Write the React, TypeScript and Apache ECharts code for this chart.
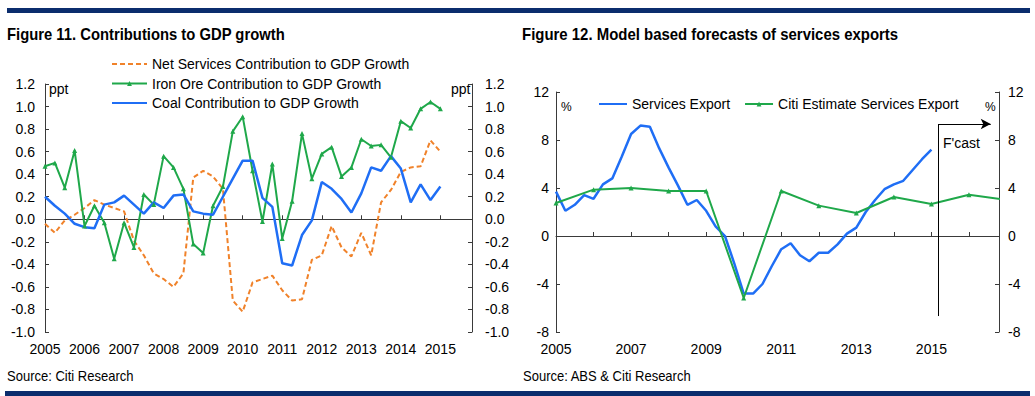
import React, { useEffect, useRef } from "react";
import * as echarts from "echarts";

// ---------- Data ----------
const fig11Title = "Figure 11. Contributions to GDP growth";
const fig12Title = "Figure 12. Model based forecasts of services exports";
const source11 = "Source: Citi Research";
const source12 = "Source: ABS & Citi Research";

const startYear = 2005; // quarterly series start at 2005 Q1

const netServicesName = "Net Services Contribution to GDP Growth";
const ironOreName = "Iron Ore Contribution to GDP Growth";
const coalName = "Coal Contribution to GDP Growth";

const netServices = [
  -0.04, -0.12, -0.01, 0.04, 0.1, 0.17, 0.13, 0.1, 0.07, -0.19, -0.32, -0.48,
  -0.53, -0.6, -0.48, 0.37, 0.43, 0.38, 0.27, -0.72, -0.82, -0.56, -0.53, -0.5,
  -0.63, -0.72, -0.71, -0.36, -0.32, -0.06, -0.25, -0.33, -0.12, -0.32, 0.15,
  0.26, 0.42, 0.46, 0.47, 0.7, 0.6,
];
const ironOre = [
  0.47, 0.5, 0.28, 0.61, -0.06, 0.12, -0.03, -0.35, -0.03, -0.25, 0.22, 0.13,
  0.56, 0.46, 0.27, -0.22, -0.3, 0.12, 0.29, 0.78, 0.91, 0.43, -0.02, 0.49,
  -0.17, 0.16, 0.76, 0.36, 0.58, 0.64, 0.38, 0.46, 0.71, 0.65, 0.66, 0.55, 0.87,
  0.81, 0.98, 1.04, 0.98,
];
const coal = [
  0.2, 0.12, 0.05, -0.04, -0.07, -0.08, 0.13, 0.15, 0.21, 0.13, 0.05, 0.15, 0.1,
  0.21, 0.22, 0.07, 0.05, 0.04, 0.2, 0.36, 0.52, 0.52, 0.19, 0.11, -0.39, -0.41,
  -0.14, -0.01, 0.33, 0.27, 0.18, 0.06, 0.23, 0.46, 0.43, 0.56, 0.45, 0.15, 0.31,
  0.17, 0.29,
];

const servicesExportName = "Services Export";
const citiEstimateName = "Citi Estimate Services Export";
const servicesExport = [
  3.7, 2.1, 2.6, 3.4, 3.1, 4.3, 4.8, 6.6, 8.5, 9.2, 9.1, 7.3, 5.7, 4.2, 2.6, 3.0,
  2.1, 0.8, 0.0, -2.3, -4.8, -4.8, -4.0, -2.5, -1.1, -0.6, -1.6, -2.1, -1.4,
  -1.4, -0.7, 0.2, 0.7, 2.0, 3.0, 3.9, 4.3, 4.6, 5.5, 6.4, 7.2,
];
const citiYears = [2005, 2006, 2007, 2008, 2009, 2010, 2011, 2012, 2013, 2014, 2015, 2016, 2017];
const citiEstimate = [2.75, 3.86, 4.0, 3.75, 3.75, -5.17, 3.75, 2.53, 1.92, 3.25, 2.67, 3.44, 3.0];

const forecastStart = 2015.18;
const forecastArrowEnd = 2016.58;
const forecastTop = 9.33;
const forecastBottom = -6.67;

// ---------- Styles ----------
const FONT = "'Liberation Sans', Arial, Helvetica, sans-serif";
const NAVY = "#0b2d6d";
const AXIS = "#3a3a3a";
const BLUE = "#1f6ef5";
const GREEN = "#1fa84a";
const ORANGE = "#f0822a";

const quarterly = (values: number[]) => values.map((v, i) => [startYear + i / 4, v]);

function buildOption(): any {
  const axisLineStyle = { color: AXIS, width: 1 };
  const labelStyle = { fontSize: 14, color: "#000", fontFamily: FONT };

  const yearLabelAxis = (gridIndex: number, max: number, onlyOdd: boolean) => ({
    type: "value",
    gridIndex,
    min: 2005,
    max,
    interval: 1,
    position: "bottom",
    axisLine: { show: false, onZero: false },
    axisTick: { show: false },
    splitLine: { show: false },
    axisLabel: {
      ...labelStyle,
      margin: 10,
      showMaxLabel: false,
      formatter: (v: number) => {
        if (!Number.isInteger(v)) return "";
        if (onlyOdd && v % 2 === 0) return "";
        return String(v);
      },
    },
  });
  const zeroLineAxis = (gridIndex: number, max: number) => ({
    type: "value",
    gridIndex,
    min: 2005,
    max,
    interval: 1,
    position: "bottom",
    axisLine: { show: true, onZero: true, lineStyle: axisLineStyle },
    axisTick: { show: true, inside: true, length: 4, lineStyle: axisLineStyle },
    axisLabel: { show: false },
    splitLine: { show: false },
  });
  const valueAxis = (
    gridIndex: number,
    position: string,
    min: number,
    max: number,
    interval: number,
    margin: number,
    fmt: (v: number) => string
  ) => ({
    type: "value",
    gridIndex,
    position,
    min,
    max,
    interval,
    axisLine: { show: true, onZero: false, lineStyle: axisLineStyle },
    axisTick: { show: true, inside: true, length: 4, lineStyle: axisLineStyle },
    splitLine: { show: false },
    axisLabel: { ...labelStyle, margin, formatter: fmt },
  });

  const f1 = (v: number) => v.toFixed(1);
  const f0 = (v: number) => String(Math.round(v));
  const lineOnly = (name: string) => ({ name, itemStyle: { opacity: 0 } });

  const titleText = (text: string, x: number, sx: number) => ({
    type: "text",
    x,
    y: 34,
    scaleX: sx,
    style: {
      text,
      fontSize: 16,
      fontWeight: "bold",
      fill: "#000",
      fontFamily: FONT,
      verticalAlign: "middle",
    },
  });
  const sourceText = (text: string, x: number) => ({
    type: "text",
    x,
    y: 376,
    scaleX: 0.93,
    style: { text, fontSize: 14, fill: "#000", fontFamily: FONT, verticalAlign: "middle" },
  });

  return {
    animation: false,
    backgroundColor: "#fff",
    textStyle: { fontFamily: FONT },
    legend: [
      {
        data: [lineOnly(netServicesName), ironOreName, lineOnly(coalName)],
        orient: "vertical",
        left: 111,
        top: 57,
        padding: 0,
        itemGap: 5.5,
        itemWidth: 35,
        itemHeight: 6,
        textStyle: { ...labelStyle },
      },
      {
        data: [lineOnly(servicesExportName), citiEstimateName],
        orient: "horizontal",
        left: 598,
        top: 97,
        padding: 0,
        itemGap: 14,
        itemWidth: 28,
        itemHeight: 6,
        textStyle: { ...labelStyle },
      },
    ],
    grid: [
      { left: 45, top: 84, width: 427, height: 248 },
      { left: 556, top: 92, width: 443, height: 240 },
    ],
    xAxis: [
      yearLabelAxis(0, 2015.8, false),
      zeroLineAxis(0, 2015.8),
      yearLabelAxis(1, 2016.8, true),
      zeroLineAxis(1, 2016.8),
    ],
    yAxis: [
      valueAxis(0, "left", -1.0, 1.2, 0.2, 10, f1),
      valueAxis(0, "right", -1.0, 1.2, 0.2, 13, f1),
      valueAxis(1, "left", -8, 12, 4, 7, f0),
      valueAxis(1, "right", -8, 12, 4, 9, f0),
    ],
    series: [
      {
        name: netServicesName,
        type: "line",
        xAxisIndex: 0,
        yAxisIndex: 0,
        data: quarterly(netServices),
        symbol: "none",
        lineStyle: { color: ORANGE, width: 2, type: [5, 3] },
        itemStyle: { color: ORANGE },
      },
      {
        name: ironOreName,
        type: "line",
        xAxisIndex: 0,
        yAxisIndex: 0,
        data: quarterly(ironOre),
        symbol: "triangle",
        symbolSize: 5,
        showSymbol: true,
        lineStyle: { color: GREEN, width: 2 },
        itemStyle: { color: GREEN },
      },
      {
        name: coalName,
        type: "line",
        xAxisIndex: 0,
        yAxisIndex: 0,
        data: quarterly(coal),
        symbol: "none",
        lineStyle: { color: BLUE, width: 2.5 },
        itemStyle: { color: BLUE },
      },
      {
        name: servicesExportName,
        type: "line",
        xAxisIndex: 2,
        yAxisIndex: 2,
        data: quarterly(servicesExport),
        symbol: "none",
        lineStyle: { color: BLUE, width: 2.5 },
        itemStyle: { color: BLUE },
      },
      {
        name: citiEstimateName,
        type: "line",
        xAxisIndex: 2,
        yAxisIndex: 2,
        data: citiYears.map((y, i) => [y, citiEstimate[i]]),
        symbol: "triangle",
        symbolSize: 5,
        showSymbol: true,
        clip: true,
        lineStyle: { color: GREEN, width: 2 },
        itemStyle: { color: GREEN },
        markLine: {
          silent: true,
          animation: false,
          label: { show: false },
          lineStyle: { color: "#000", width: 1, type: "solid" },
          symbol: ["none", "none"],
          data: [
            [
              { coord: [forecastStart, forecastTop], symbol: "none" },
              { coord: [forecastStart, forecastBottom], symbol: "none" },
            ],
            [
              { coord: [forecastStart, forecastTop], symbol: "none" },
              { coord: [forecastArrowEnd, forecastTop], symbol: "arrow", symbolSize: [8, 10] },
            ],
          ],
        },
      },
    ],
    graphic: [
      { type: "rect", left: 7, top: 8, shape: { width: 1023, height: 5 }, style: { fill: NAVY }, silent: true },
      { type: "rect", left: 5, top: 391, shape: { width: 1025, height: 5 }, style: { fill: NAVY }, silent: true },
      titleText(fig11Title, 7, 0.926),
      titleText(fig12Title, 522, 0.935),
      sourceText(source11, 7),
      sourceText(source12, 523),
      { type: "text", left: 49, top: 82, style: { text: "ppt", fontSize: 14, fill: "#000", fontFamily: FONT } },
      { type: "text", left: 451, top: 82, style: { text: "ppt", fontSize: 14, fill: "#000", fontFamily: FONT } },
      { type: "text", left: 561, top: 101, style: { text: "%", fontSize: 12, fill: "#000", fontFamily: FONT } },
      { type: "text", left: 985, top: 101, style: { text: "%", fontSize: 12, fill: "#000", fontFamily: FONT } },
      { type: "text", left: 943, top: 136, style: { text: "F'cast", fontSize: 14, fill: "#000", fontFamily: FONT } },
    ],
  };
}

export default function App() {
  const ref = useRef<HTMLDivElement>(null);
  useEffect(() => {
    if (!ref.current) return;
    const chart = echarts.init(ref.current, undefined, { renderer: "svg" });
    chart.setOption(buildOption());
    return () => chart.dispose();
  }, []);
  return (
    <div
      ref={ref}
      style={{ position: "absolute", left: 0, top: 0, width: 1035, height: 396, background: "#fff" }}
    />
  );
}
